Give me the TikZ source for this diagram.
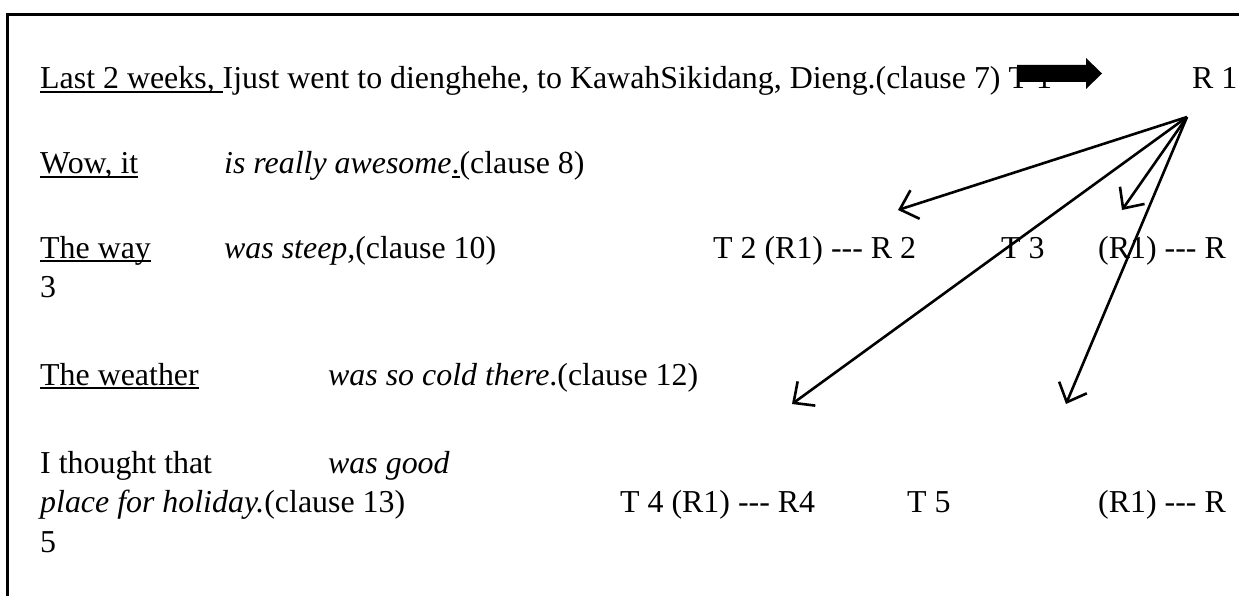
\documentclass[tikz,border=0pt]{standalone}
\usepackage{fontspec}
\setmainfont{Liberation Serif}
\usetikzlibrary{arrows.meta}
% underlined run of text with a fixed rule below the baseline
\newcommand\ulin[1]{\setbox0\hbox{#1}\rlap{\rule[-4pt]{\wd0}{2pt}}\box0}
% three plain hyphens, kept apart from the dash ligatures
\newcommand\hyph{-{}-{}-}

\begin{document}
\begin{tikzpicture}[x=1pt,y=-1pt,
  txt/.style={anchor=base west,inner sep=0pt,font=\fontsize{31.9}{36}\selectfont},
  link/.style={line width=2.6pt,-{Straight Barb[length=16pt,width=30pt,line width=2.6pt]}}]
\useasboundingbox (0,0) rectangle (1239,596);
% page frame
\draw[line width=3pt] (7,596) -- (7,15) -- (1239,15);

% clause lines
\node[txt] (l1) at (40,89) {\ulin{Last 2 weeks, }Ijust went to dienghehe, to KawahSikidang, Dieng.(clause 7) T 1};
\node[txt] (r1) at (1192,89) {R 1};

\node[txt] (l2a) at (40,174) {\ulin{Wow, it}};
\node[txt] (l2b) at (224,174) {\textit{is really awesome}\ulin{.}(clause 8)};

\node[txt] (l3a) at (40,258) {\ulin{The way}};
\node[txt] (l3b) at (224,258) {\textit{was steep,}(clause 10)};
\node[txt] (t2) at (713,258) {T 2 (R1) \hyph{} R 2};
\node[txt] (t3) at (1001,258) {T 3};
\node[txt] (r3) at (1098,258) {(R1) \hyph{} R};
\node[txt] (n3) at (40,297) {3};

\node[txt] (l4a) at (40,385) {\ulin{The weather}};
\node[txt] (l4b) at (328,385) {\textit{was so cold there}.(clause 12)};

\node[txt] (l5a) at (40,473) {I thought that};
\node[txt] (l5b) at (328,473) {\textit{was good}};
\node[txt] (l6) at (40,512) {\textit{place for holiday.}(clause 13)};
\node[txt] (t4) at (620,512) {T 4 (R1) \hyph{} R4};
\node[txt] (t5) at (907,512) {T 5};
\node[txt] (r5) at (1098,512) {(R1) \hyph{} R};
\node[txt] (n5) at (40,552) {5};

% block arrow T 1 -> R 1
\fill (1017,65) -- (1086,65) -- (1086,58) -- (1102,73.5) -- (1086,89) -- (1086,82) -- (1017,82) -- cycle;

% R 1 fanning out to the later themes
\coordinate (hub) at (1187,117);
\coordinate (e2) at (898,210);
\coordinate (e3) at (1122,210);
\coordinate (e4) at (792,404);
\coordinate (e5) at (1066,404);
\draw[link] (hub) -- (e2);
\draw[link] (hub) -- (e3);
\draw[link] (hub) -- (e4);
\draw[link] (hub) -- (e5);
\end{tikzpicture}
\end{document}
